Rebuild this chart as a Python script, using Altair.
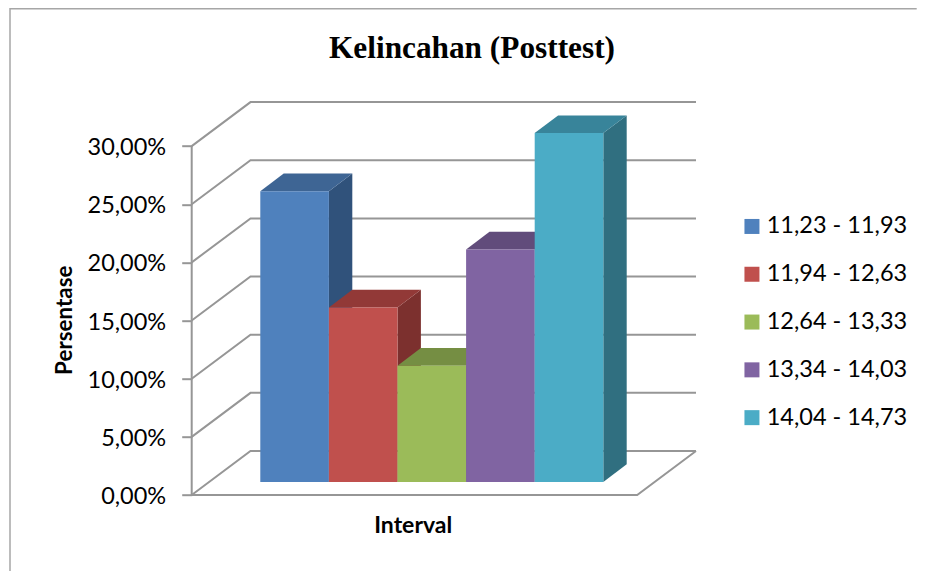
import altair as alt
import pandas as pd

# --- chart values
intervals = ["11,23 - 11,93", "11,94 - 12,63", "12,64 - 13,33", "13,34 - 14,03", "14,04 - 14,73"]
percent = [25, 15, 10, 20, 30]
ticks = [0, 5, 10, 15, 20, 25, 30]
front_colors = ["#4F81BD", "#C0504D", "#9BBB59", "#8064A2", "#4BACC6"]
top_colors = ["#3E6594", "#923937", "#758E43", "#614C7B", "#38849A"]
side_colors = ["#30527B", "#7C302E", "#637A38", "#523F69", "#306F80"]

# --- projection of the 3D box (plot units: px horizontally, percent vertically)
PX_PER_PCT = 11.63
PLOT_W, PLOT_H = 504.3, 393.3
Y_MAX = PLOT_H / PX_PER_PCT
WALL_DX, WALL_DY = 58.8, 44 / PX_PER_PCT
FLOOR_W = PLOT_W - WALL_DX
BAR_X0, BAR_W = 68.6, 68.6
BAR_DX, BAR_DY = 23.4, 17.7 / PX_PER_PCT
BAR_LIFT = 13 / PX_PER_PCT

xs = alt.Scale(domain=[0, PLOT_W], nice=False, zero=False)
ys = alt.Scale(domain=[0, Y_MAX], nice=False, zero=False)
x_axis = alt.Axis(
    title="Interval", labels=False, ticks=False, domain=False, grid=False,
    titleFont="Lato", titleFontSize=23, titleFontWeight="bold", titleColor="#000000",
    titleX=221, titleY=30, titleBaseline="middle", titleAlign="center",
)
y_axis = alt.Axis(
    title="Persentase", values=ticks, domain=False, grid=False,
    tickSize=10, tickColor="#969696", tickWidth=2, labelPadding=16,
    labelFont="Lato", labelFontSize=23.5, labelColor="#000000", labelBaseline="middle",
    labelOffset=1.5,
    labelExpr="replace(format(datum.value,'.2f'),'.',',')+'%'", labelOverlap=False,
    titleFont="Lato", titleFontSize=22.4, titleFontWeight="bold", titleColor="#000000",
    titleX=-127.7, titleY=218, titleAngle=-90, titleBaseline="middle", titleAlign="center",
)
X = alt.X("x:Q", scale=xs, axis=x_axis)
Y = alt.Y("y:Q", scale=ys, axis=y_axis)
color = alt.Color(
    "name:N",
    scale=alt.Scale(domain=intervals, range=front_colors),
    legend=alt.Legend(
        title=None, orient="none", legendX=548.5, legendY=113, symbolType="square",
        symbolSize=225, symbolStrokeWidth=0, symbolOpacity=1,
        labelFont="Lato", labelFontSize=23.5, labelColor="#000000", rowPadding=22.8,
        labelOffset=3,
    ),
)

# --- box frame: border, gridlines on left + back wall, floor
rows = []
for t in ticks:
    rows += [
        {"id": t, "o": 0, "x": 0, "y": t},
        {"id": t, "o": 1, "x": WALL_DX, "y": t + WALL_DY},
        {"id": t, "o": 2, "x": PLOT_W, "y": t + WALL_DY},
    ]
rows += [
    {"id": 100, "o": 0, "x": 0, "y": 30},
    {"id": 100, "o": 1, "x": 0, "y": 0},
    {"id": 100, "o": 2, "x": FLOOR_W, "y": 0},
    {"id": 100, "o": 3, "x": PLOT_W, "y": WALL_DY},
]
frame = (
    alt.Chart(pd.DataFrame(rows))
    .mark_line(color="#969696", strokeWidth=2)
    .encode(x=X, y=Y, detail="id:N", order="o:Q")
)
border = (
    alt.Chart(pd.DataFrame({
        "o": [0, 1, 2],
        "x": [-181.7, -181.7, 725],
        "y": [-6.6, 41.8, 41.8],
    }))
    .mark_line(color="#A6A6A6", strokeWidth=1.5)
    .encode(x=X, y=Y, order="o:Q")
)

layers = [border, frame]
for i, (name, v) in enumerate(zip(intervals, percent)):
    x0 = BAR_X0 + i * BAR_W
    x1 = x0 + BAR_W
    base = BAR_LIFT
    top = v + BAR_LIFT
    side = pd.DataFrame({
        "x": [x1, x1 + BAR_DX],
        "y": [top, top + BAR_DY],
        "y2": [base, base + BAR_DY],
    })
    roof = pd.DataFrame({
        "x": [x0, x0 + BAR_DX, x1, x1 + BAR_DX],
        "y": [top, top + BAR_DY, top + BAR_DY, top + BAR_DY],
        "y2": [top, top, top, top + BAR_DY],
    })
    front = pd.DataFrame({"name": [name], "x": [x0], "x2": [x1], "y": [top], "y2": [base]})
    layers.append(
        alt.Chart(side).mark_area(color=side_colors[i], orient="vertical", opacity=1)
        .encode(x=X, y=Y, y2="y2:Q")
    )
    layers.append(
        alt.Chart(roof).mark_area(color=top_colors[i], orient="vertical", opacity=1)
        .encode(x=X, y=Y, y2="y2:Q")
    )
    layers.append(
        alt.Chart(front).mark_bar(opacity=1)
        .encode(x=X, x2="x2:Q", y=Y, y2="y2:Q", color=color)
    )

chart = (
    alt.layer(*layers)
    .properties(
        width=PLOT_W,
        height=PLOT_H,
        padding={"left": 183.7, "top": 93.7, "right": 221, "bottom": 76},
        autosize=alt.AutoSizeParams(type="none"),
        title=alt.TitleParams(
            "Kelincahan (Posttest)", anchor="start", dx=322, offset=-58,
            font="Liberation Serif", fontSize=31.3, fontWeight="bold", color="#000000",
        ),
    )
    .configure_view(stroke=None)
)
chart.save("out.html", embed_options={"renderer": "svg", "actions": False})
